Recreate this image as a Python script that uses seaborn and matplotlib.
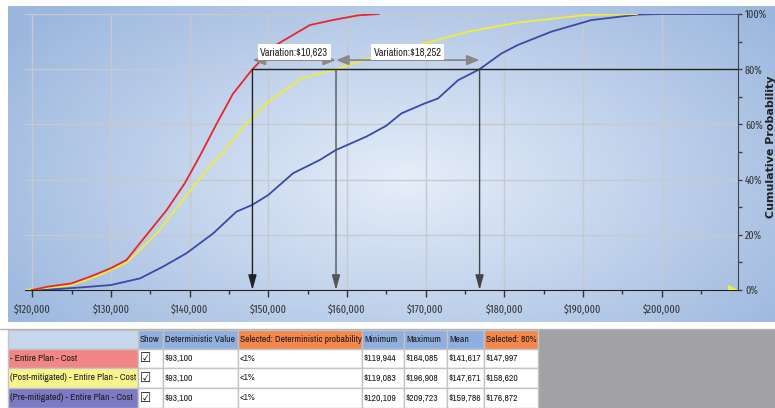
import matplotlib

matplotlib.use("Agg")

import matplotlib.pyplot as plt
import seaborn as sns
import pandas as pd
import numpy as np
from matplotlib import font_manager
from matplotlib.colors import LinearSegmentedColormap
from matplotlib.patches import Rectangle

W, H = 775, 408

# --- curve data (cost, cumulative %) ---
SERIES = [
    "- Entire Plan - Cost",
    "(Post-mitigated) - Entire Plan - Cost",
    "(Pre-mitigated) - Entire Plan - Cost",
]
LINE_COLORS = ["#e8262a", "#f0ec3a", "#3a4aa6"]
ROW_COLORS = ["#f28586", "#f7f48e", "#7c7ac4"]

red_cost = [119944, 122000, 125000, 127500, 130000, 132000, 133700, 137100, 139400,
            141300, 143400, 145500, 147997, 151000, 155300, 158200, 161400, 164085]
red_pct = [0, 1.2, 2.4, 5, 7.9, 10.9, 17, 29, 38.7, 48.5, 60, 71, 80, 88.8, 96,
           97.8, 99.5, 100]

yellow_cost = [119083, 122000, 125000, 127500, 130000, 132000, 133700, 136200, 138800,
               142200, 144500, 147240, 149780, 154230, 158620, 163970, 169900, 175400,
               181750, 190230, 196908]
yellow_pct = [0, 0.8, 1.8, 4.2, 7.2, 9.9, 14.5, 21.7, 31.4, 43.5, 50.7, 60.4, 67.7,
              76.7, 80, 85, 89.4, 93.6, 96.9, 99.6, 100]

blue_cost = [120109, 123000, 126500, 130000, 133700, 136650, 139600, 143000, 145970,
             147950, 150000, 153160, 156550, 158590, 162490, 165000, 166940, 169900,
             171590, 174130, 176872, 179650, 181750, 186000, 191080, 197000, 200000,
             209723]
blue_pct = [0, 0.3, 1, 1.8, 4.2, 8.5, 13.3, 20.5, 28.4, 30.8, 34.4, 42.3, 47.1, 50.7,
            55.6, 59.5, 64, 67.6, 69.4, 76, 80, 85.7, 88.8, 93.6, 97.8, 99.8, 100, 100]

X_MIN, X_MAX = 119083, 209723
SELECTED = 80
P80 = [147997, 158620, 176872]
X_TICKS = list(range(120000, 200001, 10000))
Y_TICKS = list(range(0, 101, 20))

# --- table data ---
HEADERS = ["", "Show", "Deterministic Value", "Selected: Deterministic probability",
           "Minimum", "Maximum", "Mean", "Selected: 80%"]
det_value = ["$93,100", "$93,100", "$93,100"]
det_prob = ["<1%", "<1%", "<1%"]
minimum = ["$119,944", "$119,083", "$120,109"]
maximum = ["$164,085", "$196,908", "$209,723"]
mean = ["$141,617", "$147,671", "$159,786"]
selected80 = ["$147,997", "$158,620", "$176,872"]


def first_font(candidates):
    names = {f.name for f in font_manager.fontManager.ttflist}
    return next((n for n in candidates if n in names), "DejaVu Sans")


NARROW = first_font(["Liberation Sans Narrow", "Arial Narrow", "Archivo Narrow",
                     "Roboto Condensed"])
TICKFONT = first_font(["Fira Sans Extra Condensed", "Barlow Condensed",
                       "Archivo Narrow", "Roboto Condensed"])

sns.set_style("white")
plt.rcParams["font.family"] = [NARROW, "DejaVu Sans"]

fig = plt.figure(figsize=(W / 100, H / 100), dpi=100, facecolor="white")

# gradient panel behind the chart
bg = fig.add_axes([8 / W, 1 - 322 / H, (W - 8) / W, (322 - 6) / H])
yy, xx = np.mgrid[0:1:200j, 0:1:400j]
dist = np.clip(np.sqrt(((xx - 0.52) / 0.62) ** 2 + ((yy - 0.55) / 0.8) ** 2), 0, 1)
bg_cmap = LinearSegmentedColormap.from_list("panel", ["#e6eef9", "#9cb7de"])
bg.imshow(dist, cmap=bg_cmap, aspect="auto", extent=[0, 1, 0, 1], vmin=0, vmax=1)
bg.axis("off")

ax = fig.add_axes([25 / W, 1 - 290 / H, (738 - 25) / W, (290 - 14) / H])
ax.set_facecolor("none")

frames = []
for name, cost, pct in [(SERIES[2], blue_cost, blue_pct),
                        (SERIES[1], yellow_cost, yellow_pct),
                        (SERIES[0], red_cost, red_pct)]:
    frames.append(pd.DataFrame({"cost": cost, "pct": pct, "series": name}))
df = pd.concat(frames, ignore_index=True)

sns.lineplot(data=df, x="cost", y="pct", hue="series", hue_order=SERIES[::-1],
             palette=dict(zip(SERIES, LINE_COLORS)), sort=False, estimator=None,
             legend=False, linewidth=1.3, ax=ax)

ax.set_xlim(X_MIN, X_MAX)
ax.set_ylim(0, 100)
ax.set_xlabel("")
ax.set_ylabel("")

tick_kw = dict(fontsize=7.8, color="#333333", family=TICKFONT)
ax.set_xticks(X_TICKS)
ax.set_xticklabels([f"${v:,}" for v in X_TICKS], **tick_kw)
ax.set_xticks([v + 5000 for v in X_TICKS], minor=True)
ax.yaxis.tick_right()
ax.set_yticks(Y_TICKS)
ax.set_yticklabels([f"{v}%" for v in Y_TICKS], **tick_kw)
ax.set_yticks([v + 10 for v in Y_TICKS[:-1]], minor=True)
ax.tick_params(axis="x", which="major", direction="out", length=5, width=1,
               color="#333333", pad=5, bottom=True)
ax.tick_params(axis="x", which="minor", direction="out", length=3, width=1,
               color="#333333", bottom=True)
ax.tick_params(axis="y", which="both", direction="out", length=3, width=1,
               color="#444444", pad=2, right=True, left=False)
for side in ["left", "top"]:
    ax.spines[side].set_visible(False)
ax.spines["bottom"].set_color("#222222")
ax.spines["right"].set_color("#444444")
ax.grid(True, which="major", color="#c7c9cc", linewidth=1)
ax.set_axisbelow(True)

# small yellow slider marker at the bottom right corner
ax.plot([X_MAX], [0], marker=[(-2, 1), (-2, 0), (0, 0)], markersize=14,
        color="#f2ee3a", markeredgewidth=0, clip_on=False, zorder=5)

# selected 80% markers
ax.plot([P80[0], X_MAX], [SELECTED, SELECTED], color="#222222", lw=1, zorder=4)
for p, c in zip(P80, ["#222222", "#555555", "#444444"]):
    ax.annotate("", xy=(p, 0), xytext=(p, SELECTED), zorder=4,
                arrowprops=dict(arrowstyle="-|>,head_length=0.9,head_width=0.25",
                                color=c, lw=1, shrinkA=0, shrinkB=0))

var_y = 83.3
for a, b in zip(P80[:-1], P80[1:]):
    ax.annotate("", xy=(a, var_y), xytext=(b, var_y), zorder=5,
                arrowprops=dict(arrowstyle="<|-|>,head_length=0.75,head_width=0.3",
                                color="#888888", lw=1.3, shrinkA=0, shrinkB=0))
    ax.text((a + b) / 2, 86.2, f"Variation:${b - a:,}", ha="center", va="center",
            fontsize=7.5, color="#222222", zorder=6,
            bbox=dict(boxstyle="square,pad=0.25", fc="white", ec="none"))

fig.text(771 / W, 1 - 147 / H, "Cumulative Probability", rotation=90, ha="center",
         va="center", fontsize=8, fontweight="bold", color="#222222",
         family="DejaVu Sans")

# --- table below the chart ---
tx = fig.add_axes([0, 0, 1, 88 / H])
tx.set_xlim(0, W)
tx.set_ylim(408, 320)
tx.axis("off")
tx.axhline(328.5, color="#b4b4b4", lw=1)
tx.add_patch(Rectangle((538, 329), W - 538, 79, color="#a2a2a6", lw=0))

col_edges = [8, 138, 163, 238, 362, 404, 447, 484, 538]
row_edges = [330, 349, 368, 388, 408]
header_colors = ["#c6d7ed", "#8fb0de", "#8fb0de", "#f5874d",
                 "#8fb0de", "#8fb0de", "#8fb0de", "#f5874d"]
rows = [[SERIES[i], "\u2611", det_value[i], det_prob[i], minimum[i], maximum[i],
         mean[i], selected80[i]] for i in range(3)]
cells = [HEADERS] + rows

for r, row in enumerate(cells):
    y0, y1 = row_edges[r], row_edges[r + 1]
    for c, txt in enumerate(row):
        x0, x1 = col_edges[c], col_edges[c + 1]
        if r == 0:
            fc = header_colors[c]
        elif c == 0:
            fc = ROW_COLORS[r - 1]
        else:
            fc = "white"
        tx.add_patch(Rectangle((x0, y0), x1 - x0, y1 - y0, fc=fc, ec="#c4c4c4", lw=1))
        if txt == "\u2611":
            tx.text(x0 + 2, (y0 + y1) / 2, txt, ha="left", va="center",
                    color="#111111", family="DejaVu Sans", fontsize=9, fontweight="bold")
        else:
            tx.text(x0 + 2, (y0 + y1) / 2, txt, ha="left", va="center",
                    color="#1c1c1c", fontsize=6.9)

fig.savefig("out.png", dpi=100)
